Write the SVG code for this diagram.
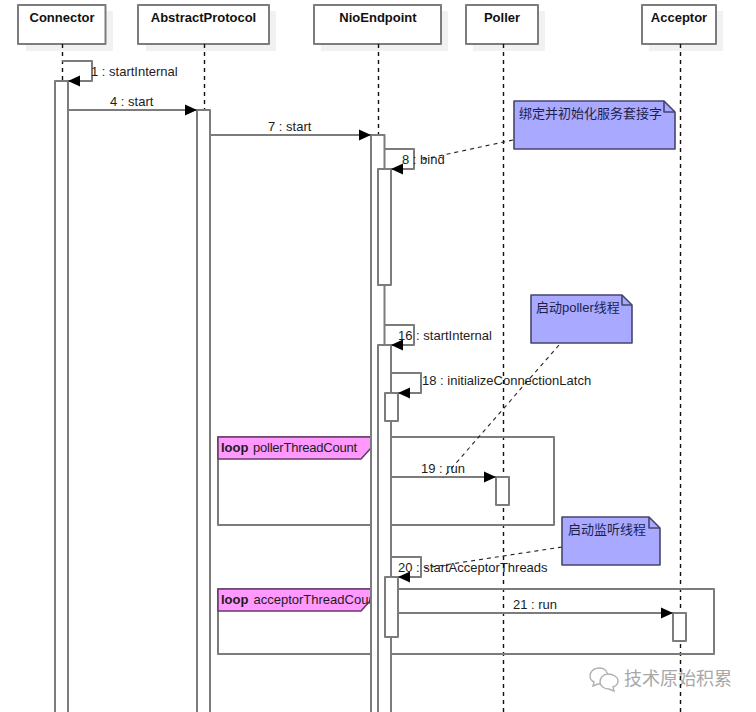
<svg xmlns="http://www.w3.org/2000/svg" width="756" height="712" viewBox="0 0 756 712">
  <style>
    text { font-family: "Liberation Sans", "Noto Sans CJK SC", sans-serif; font-size: 13px; fill: #1c1c1c; }
    .head { font-weight: bold; text-anchor: middle; fill: #111; }
    .shadow { fill: #f1f1f1; stroke: none; }
    .box { fill: #fff; stroke: #7c7c7c; stroke-width: 2; stroke-linejoin: round; }
    .life { fill: none; stroke: #111; stroke-width: 1.4; stroke-dasharray: 4 4; }
    .msg { fill: none; stroke: #7c7c7c; stroke-width: 2; stroke-linejoin: round; }
    .bar { fill: #fff; stroke: #7c7c7c; stroke-width: 2; stroke-linejoin: round; }
    .frame { fill: none; stroke: #7c7c7c; stroke-width: 2; stroke-linejoin: round; }
    .tag { fill: #ff99ff; stroke: #6a3a6a; stroke-width: 1.6; stroke-linejoin: round; }
    .note { fill: #a9a9ff; stroke: #45456e; stroke-width: 1.6; stroke-linejoin: round; }
    .fold { fill: none; stroke: #45456e; stroke-width: 1.6; stroke-linejoin: round; }
    .link { fill: none; stroke: #222; stroke-width: 1.1; stroke-dasharray: 4 4; }
    .note-text { fill: #1e1e4a; }
    .mark { fill: #a8a8a8; font-size: 18px; }
    .mark-icon { fill: #fff; stroke: #b0b0b0; stroke-width: 1.4; }
  </style>
  <defs>
    <marker id="tip" markerUnits="userSpaceOnUse" markerWidth="13" markerHeight="12" refX="12" refY="6" orient="auto">
      <path d="M0 0.500 L12 6 L0 11.500 Z" fill="#000"/>
    </marker>
  </defs>

  <rect width="756" height="712" fill="#fff"/>

  <!-- Participants -->
  <g id="connector">
    <rect class="shadow" x="26" y="11" width="87" height="40"/>
    <rect class="box" x="18" y="5" width="87.500" height="39"/>
    <text class="head" x="62" y="22">Connector</text>
  </g>
  <g id="abstract-protocol">
    <rect class="shadow" x="146" y="11" width="130" height="40"/>
    <rect class="box" x="138" y="5" width="131" height="39"/>
    <text class="head" x="203.500" y="22">AbstractProtocol</text>
  </g>
  <g id="nio-endpoint">
    <rect class="shadow" x="321" y="11" width="127" height="40"/>
    <rect class="box" x="314" y="5" width="127" height="39"/>
    <text class="head" x="378" y="22">NioEndpoint</text>
  </g>
  <g id="poller">
    <rect class="shadow" x="473" y="11" width="72" height="40"/>
    <rect class="box" x="466" y="5" width="72" height="39"/>
    <text class="head" x="502" y="22">Poller</text>
  </g>
  <g id="acceptor">
    <rect class="shadow" x="649" y="11" width="74" height="40"/>
    <rect class="box" x="642" y="5" width="74" height="39"/>
    <text class="head" x="679" y="22">Acceptor</text>
  </g>

  <!-- Watermark in the lower right corner, under the lifelines -->
  <g id="watermark">
    <path class="mark-icon" d="M600 668 C593 668 590 672 590 676 C590 679 592 681 594 682 L593 686 L598 684 C600 684 601 684 603 684 C606 684 608 682 608 677 C608 672 605 668 600 668 Z"/>
    <path class="mark-icon" d="M608 674 C603 674 600 678 600 682 C600 686 604 689 609 689 L614 691 L613 687 C616 686 618 684 618 681 C618 677 613 674 608 674 Z"/>
    <text class="mark" x="624" y="685">技术原始积累</text>
  </g>

  <!-- Lifelines -->
  <g id="lifelines">
    <path class="life" d="M62.500 44 V712"/>
    <path class="life" d="M204.500 44 V712"/>
    <path class="life" d="M378.500 44 V712"/>
    <path class="life" d="M503.500 44 V712"/>
    <path class="life" d="M680.500 44 V712"/>
  </g>

  <!-- Combined fragments -->
  <g id="loop-poller">
    <rect class="frame" x="218" y="437" width="336" height="88"/>
    <path class="tag" d="M218 437 H371 V448 L361 459 H218 Z"/>
    <text x="221" y="452"><tspan font-weight="bold">loop</tspan><tspan x="253" textLength="104" lengthAdjust="spacing">pollerThreadCount</tspan></text>
  </g>
  <g id="loop-acceptor">
    <rect class="frame" x="218" y="589" width="496" height="65"/>
    <path class="tag" d="M218 589 H371 V600 L361 611 H218 Z"/>
    <text x="221" y="604"><tspan font-weight="bold">loop</tspan><tspan x="253.500">acceptorThreadCount</tspan></text>
  </g>

  <!-- Activation bars -->
  <g id="activations">
    <rect class="bar" x="55" y="81" width="13" height="640"/>
    <rect class="bar" x="197" y="110" width="13" height="610"/>
    <rect class="bar" x="371" y="135" width="13.500" height="590"/>
    <rect class="bar" x="378" y="169" width="13" height="116"/>
    <rect class="bar" x="378" y="345" width="13" height="375"/>
    <rect class="bar" x="385" y="393" width="13" height="28"/>
    <rect class="bar" x="385" y="577" width="13" height="60"/>
    <rect class="bar" x="496" y="477" width="13" height="28"/>
    <rect class="bar" x="673" y="613" width="13" height="28"/>
  </g>

  <!-- Messages -->
  <g id="connectors">
    <path class="msg" d="M62 61 H92 V81 H68" marker-end="url(#tip)"/>
    <path class="msg" d="M68 110 H197" marker-end="url(#tip)"/>
    <path class="msg" d="M210 135 H371" marker-end="url(#tip)"/>
    <path class="msg" d="M384 149 H414 V169 H391" marker-end="url(#tip)"/>
    <path class="msg" d="M384 325 H414 V345 H391" marker-end="url(#tip)"/>
    <path class="msg" d="M391 373 H421 V393 H398" marker-end="url(#tip)"/>
    <path class="msg" d="M391 477 H496" marker-end="url(#tip)"/>
    <path class="msg" d="M391 557 H421 V577 H398" marker-end="url(#tip)"/>
    <path class="msg" d="M398 613 H673" marker-end="url(#tip)"/>
    <path class="link" d="M513 140 L420 160"/>
    <path class="link" d="M559 345 L443 478"/>
    <path class="link" d="M562 547 L425 568"/>
  </g>

  <!-- Message labels -->
  <g id="labels">
    <text x="91" y="76">1 : startInternal</text>
    <text x="110" y="106">4 : start</text>
    <text x="268" y="131">7 : start</text>
    <text x="402" y="164">8 : bind</text>
    <text x="398" y="340">16 : startInternal</text>
    <text x="422" y="385">18 : initializeConnectionLatch</text>
    <text x="421" y="473">19 : run</text>
    <text x="398" y="572">20 : startAcceptorThreads</text>
    <text x="513" y="609">21 : run</text>
  </g>

  <!-- Notes -->
  <g id="note-bind">
    <path class="note" d="M514 101 H664 L675 112 V149 H514 Z"/>
    <path class="fold" d="M664 101 V112 H675"/>
    <text class="note-text" x="519" y="118">绑定并初始化服务套接字</text>
  </g>
  <g id="note-poller">
    <path class="note" d="M531 295 H622 L632 305 V343 H531 Z"/>
    <path class="fold" d="M622 295 V305 H632"/>
    <text class="note-text" x="536" y="312">启动poller线程</text>
  </g>
  <g id="note-acceptor">
    <path class="note" d="M562 517 H649 L660 528 V565 H562 Z"/>
    <path class="fold" d="M649 517 V528 H660"/>
    <text class="note-text" x="568" y="534">启动监听线程</text>
  </g>
</svg>
